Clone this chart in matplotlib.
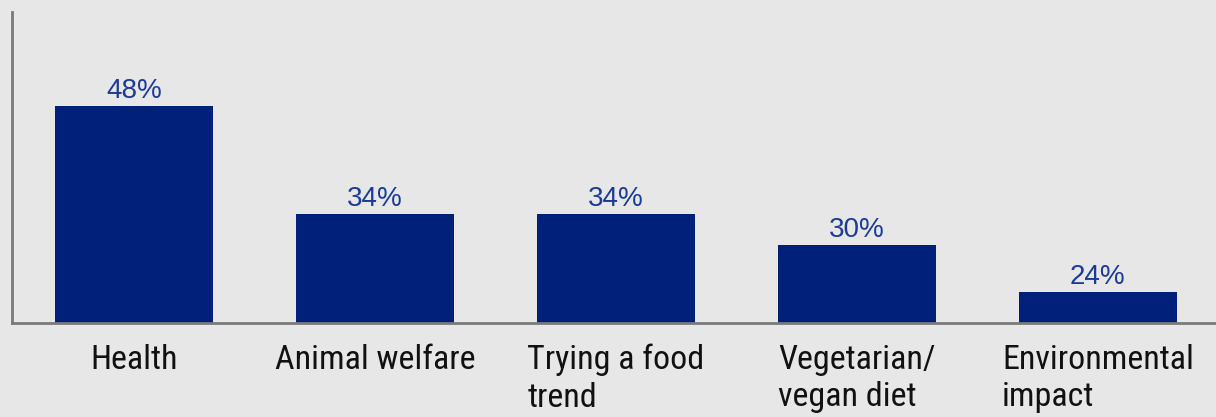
import matplotlib
matplotlib.use("Agg")
import matplotlib.pyplot as plt
from matplotlib import font_manager
from matplotlib.font_manager import FontProperties

categories = ["Health", "Animal welfare", "Trying a food\ntrend", "Vegetarian/\nvegan diet", "Environmental\nimpact"]
shares = [48, 34, 34, 30, 24]
value_labels = ["48%", "34%", "34%", "30%", "24%"]


def pick_condensed():
    """Return the file of a regular-weight condensed sans face, if any."""
    prefs = ["Noto Sans", "Roboto", "Open Sans", "DejaVu Sans", "Liberation Sans Narrow"]
    stretches = ["condensed", "semi-condensed", "extra-condensed", 600, 700, 750, 500]
    found = []
    for f in font_manager.fontManager.ttflist:
        if f.style != "normal" or f.weight not in (400, "normal", "regular"):
            continue
        if f.name == "Liberation Sans Narrow" or f.stretch in stretches or "Condensed" in f.name:
            found.append(f)
    for fam in prefs:
        for f in found:
            if f.name.startswith(fam):
                return f.fname
    return found[0].fname if found else None


cond_file = pick_condensed()
cat_props = FontProperties(fname=cond_file) if cond_file else FontProperties(family="Roboto")

bg = "#e7e7e7"
bar_color = "#00207a"
label_color = "#1a3a9c"
spine_color = "#7a7a7a"

fig = plt.figure(figsize=(12.16, 4.17), dpi=100, facecolor=bg)
ax = fig.add_axes([0.0099, 0.2254, 0.9901, 0.7458], facecolor=bg)

x = list(range(len(categories)))
ax.bar(x, shares, width=0.656, color=bar_color, zorder=2)

ax.set_ylim(20, 60.1)
ax.set_xlim(-0.506, 4.49)

for xi, v, lab in zip(x, shares, value_labels):
    ax.annotate(lab, (xi, v), xytext=(0, 1.5), textcoords="offset points",
                ha="center", va="bottom", fontsize=20, color=label_color,
                family="Liberation Sans")

# size the category font so the widest line spans about 192 px
renderer = fig.canvas.get_renderer()
probe = fig.text(0, 0, "Environmental", fontproperties=cat_props, fontsize=26)
w = probe.get_window_extent(renderer).width
probe.remove()
cat_size = min(26, 26 * 192.0 / w)

ax.set_xticks(x)
labels = ax.set_xticklabels(categories, fontproperties=cat_props, color="#111111",
                            va="top", ma="left", linespacing=1.22)
for t in labels:
    t.set_fontsize(cat_size)
ax.tick_params(axis="x", length=0, pad=15)
ax.set_yticks([])

for side in ("top", "right"):
    ax.spines[side].set_visible(False)
for side in ("left", "bottom"):
    ax.spines[side].set_color(spine_color)
    ax.spines[side].set_linewidth(2)

fig.savefig("out.png", dpi=100, facecolor=bg)
